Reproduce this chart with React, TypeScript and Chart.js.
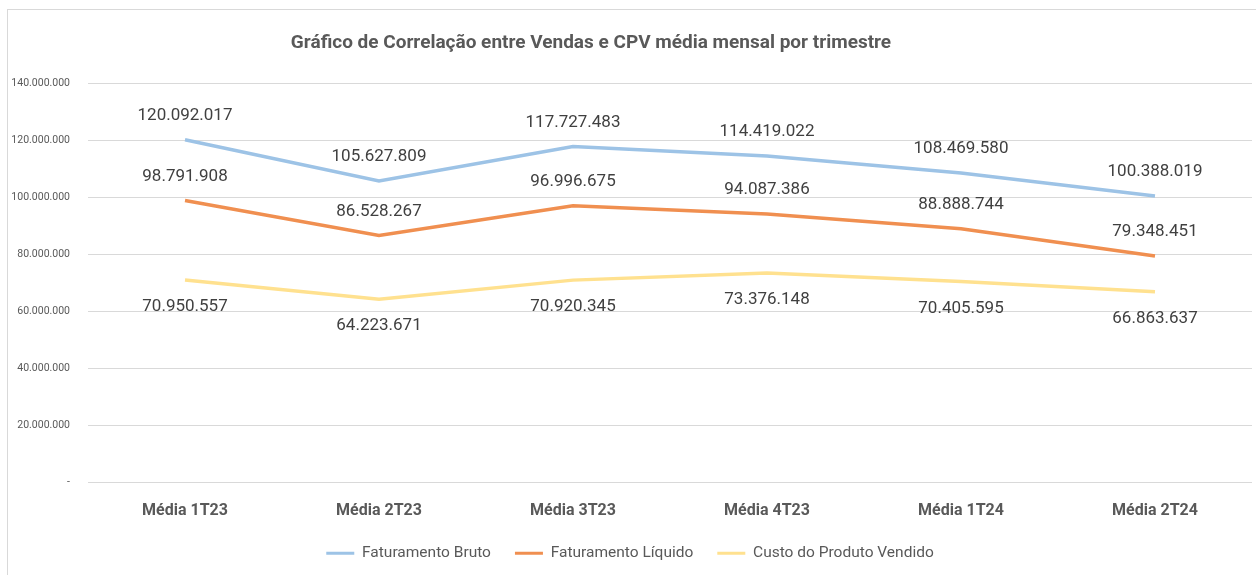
import React, { useEffect, useRef } from "react";
import { Chart, registerables } from "chart.js";

Chart.register(...registerables);

const categories = ["Média 1T23", "Média 2T23", "Média 3T23", "Média 4T23", "Média 1T24", "Média 2T24"];
const faturamentoBruto = [120092017, 105627809, 117727483, 114419022, 108469580, 100388019];
const faturamentoLiquido = [98791908, 86528267, 96996675, 94087386, 88888744, 79348451];
const custoProduto = [70950557, 64223671, 70920345, 73376148, 70405595, 66863637];
const seriesNames = ["Faturamento Bruto", "Faturamento Líquido", "Custo do Produto Vendido"];
const yTicks = [0, 20000000, 40000000, 60000000, 80000000, 100000000, 120000000, 140000000];
const chartTitle = "Gráfico de Correlação entre Vendas e CPV média mensal por trimestre";

const FONT = "Roboto, 'Open Sans', sans-serif";

function fmt(v: number): string {
  const s = Math.round(v).toString();
  return s.replace(/\B(?=(\d{3})+(?!\d))/g, ".");
}

const labelPlugin = {
  id: "valueLabels",
  afterDatasetsDraw(chart: any) {
    const ctx = chart.ctx;
    ctx.save();
    ctx.font = `17px ${FONT}`;
    ctx.fillStyle = "#404040";
    ctx.textAlign = "center";
    ctx.textBaseline = "middle";
    chart.data.datasets.forEach((ds: any, i: number) => {
      const meta = chart.getDatasetMeta(i);
      meta.data.forEach((pt: any, j: number) => {
        const off = i === 2 ? 27 : -24;
        ctx.fillText(fmt(ds.data[j]), pt.x, pt.y + off);
      });
    });
    ctx.restore();
  },
};

const titlePlugin = {
  id: "offsetTitle",
  afterDraw(chart: any) {
    const ctx = chart.ctx;
    ctx.save();
    ctx.font = `bold 19px ${FONT}`;
    ctx.fillStyle = "#595959";
    ctx.textAlign = "center";
    ctx.textBaseline = "middle";
    ctx.fillText(chartTitle, 583, 33);
    ctx.restore();
  },
};

export default function App() {
  const ref = useRef<HTMLCanvasElement | null>(null);
  useEffect(() => {
    if (!ref.current) return;
    const chart = new Chart(ref.current, {
      type: "line",
      data: {
        labels: categories,
        datasets: [
          { label: seriesNames[0], data: faturamentoBruto, borderColor: "#9DC3E6", backgroundColor: "#9DC3E6", borderWidth: 3.5, pointRadius: 0, tension: 0 },
          { label: seriesNames[1], data: faturamentoLiquido, borderColor: "#F08F50", backgroundColor: "#F08F50", borderWidth: 3.5, pointRadius: 0, tension: 0 },
          { label: seriesNames[2], data: custoProduto, borderColor: "#FFE18F", backgroundColor: "#FFE18F", borderWidth: 3.5, pointRadius: 0, tension: 0 },
        ],
      },
      options: {
        animation: false,
        responsive: false,
        layout: { padding: { left: 0, right: 4, top: 73, bottom: 4 } },
        plugins: {
          title: { display: false },
          legend: {
            position: "bottom",
            labels: {
              color: "#595959",
              font: { family: FONT, size: 15.5 },
              boxWidth: 28,
              boxHeight: 3,
              padding: 24,
              generateLabels: (c: any) =>
                Chart.defaults.plugins.legend.labels.generateLabels(c).map((l: any) => ({ ...l, lineWidth: 0 })),
            },
          },
          tooltip: { enabled: false },
        },
        scales: {
          x: {
            offset: true,
            grid: { display: false },
            border: { display: false },
            afterFit: (s: any) => { s.height = 39; },
            ticks: { color: "#595959", font: { family: FONT, size: 16, weight: "bold" }, padding: 11, maxRotation: 0 },
          },
          y: {
            min: 0,
            max: 140000000,
            afterBuildTicks: (s: any) => { s.ticks = yTicks.map((v) => ({ value: v })); },
            afterFit: (s: any) => { s.width = 80; },
            grid: { color: "#D9D9D9", drawTicks: false },
            border: { display: false },
            ticks: {
              color: "#595959",
              font: { family: FONT, size: 10.5 },
              padding: 18,
              callback: (v: any) => (Number(v) === 0 ? "-" : fmt(Number(v))),
            },
          },
        },
      },
      plugins: [labelPlugin, titlePlugin],
    } as any);
    return () => chart.destroy();
  }, []);
  return (
    <div
      style={{
        position: "absolute",
        left: 7,
        top: 9,
        width: 1249,
        height: 566,
        borderLeft: "1px solid #D9D9D9",
        borderTop: "1px solid #D9D9D9",
        background: "#fff",
      }}
    >
      <canvas ref={ref} width={1248} height={565} style={{ display: "block" }} />
    </div>
  );
}
